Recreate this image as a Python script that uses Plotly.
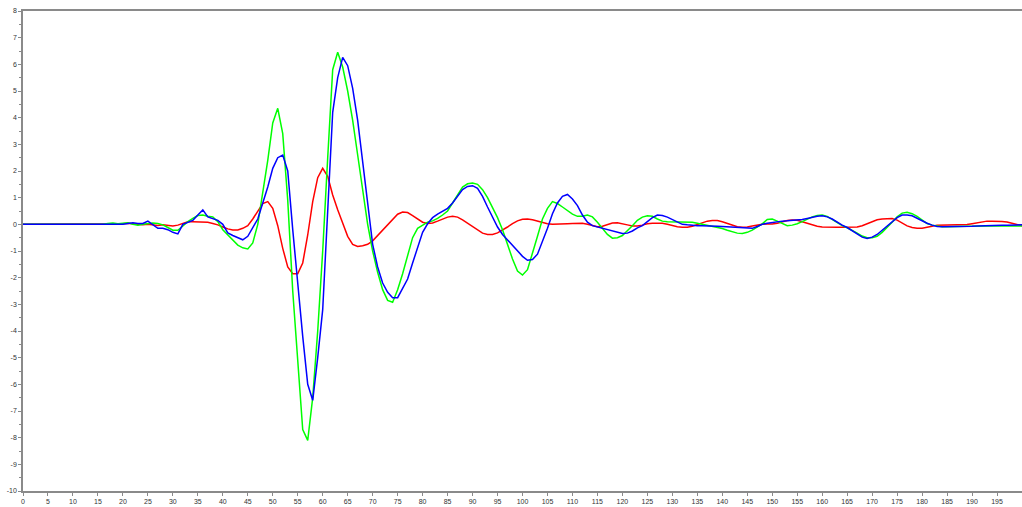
import plotly.graph_objects as go

# Sample index (one value per integer step)
x_samples = list(range(201))

red_signal = [
    0, 0, 0, 0, 0, 0, 0, 0, 0, 0,
    0, 0, 0, 0, 0, 0.01, 0, 0.01, 0.02, 0,
    0.02, 0.04, 0.02, 0, -0.02, 0, -0.03, -0.04, -0.02, -0.05,
    -0.06, -0.03, 0.05, 0.1, 0.1, 0.1, 0.1, 0.08, 0.03, -0.02,
    -0.1, -0.17, -0.21, -0.21, -0.15, -0.05, 0.2, 0.5, 0.78, 0.85,
    0.6, -0.05, -0.9, -1.6, -1.85, -1.85, -1.45, -0.4, 0.85, 1.75,
    2.1, 1.8, 1.1, 0.55, 0.05, -0.45, -0.75, -0.83, -0.8, -0.75,
    -0.62, -0.42, -0.22, 0.0, 0.2, 0.38, 0.46, 0.44, 0.33, 0.2,
    0.08, 0.03, 0.05, 0.12, 0.2, 0.27, 0.3, 0.27, 0.17, 0.04,
    -0.1, -0.22, -0.33, -0.38, -0.38, -0.32, -0.22, -0.1, 0.03, 0.13,
    0.19, 0.2, 0.17, 0.12, 0.07, 0.02, 0.0, 0.0, 0.01, 0.02,
    0.03, 0.04, 0.04, 0.0, -0.05, -0.09, -0.07, 0.0, 0.05, 0.06,
    0.03, -0.02, -0.06, -0.06, -0.03, 0.02, 0.04, 0.05, 0.04, 0.0,
    -0.05, -0.09, -0.11, -0.11, -0.07, 0.0, 0.07, 0.12, 0.14, 0.14,
    0.1, 0.03, -0.04, -0.09, -0.11, -0.1, -0.06, -0.02, 0.0, 0.01,
    0.01, 0.04, 0.09, 0.14, 0.16, 0.15, 0.1, 0.04, -0.02, -0.07,
    -0.1, -0.11, -0.11, -0.11, -0.11, -0.11, -0.11, -0.1, -0.05, 0.03,
    0.11, 0.17, 0.2, 0.22, 0.22, 0.16, 0.04, -0.06, -0.12, -0.15,
    -0.15, -0.12, -0.07, -0.03, -0.03, -0.03, -0.03, -0.03, -0.03, -0.01,
    0.02, 0.06, 0.1, 0.12, 0.12, 0.12, 0.11, 0.09, 0.05, 0.0,
    -0.05,
]

green_signal = [
    0, 0, 0, 0, 0, 0, 0, 0, 0, 0,
    0, 0, 0, 0, 0, 0.02, 0, 0.03, 0.05, 0.02,
    0.05, 0.06, 0, -0.03, 0, 0.03, 0.05, 0.03, -0.02, -0.12,
    -0.22, -0.22, -0.05, 0.1, 0.22, 0.33, 0.35, 0.3, 0.28, 0.1,
    -0.2, -0.4, -0.6, -0.78, -0.88, -0.92, -0.7, 0.0, 1.2, 2.4,
    3.8, 4.35, 3.4, 0.9, -2.5, -5.2, -7.7, -8.1, -6.5, -4.0,
    -1.0, 2.5, 5.8, 6.45, 5.9, 5.0, 3.9, 2.6, 1.3, 0.0,
    -1.0, -1.8, -2.45, -2.85, -2.92, -2.45, -1.85, -1.15, -0.5, -0.15,
    -0.02, 0.08, 0.13, 0.22, 0.35, 0.5, 0.8, 1.1, 1.4, 1.52,
    1.55, 1.5, 1.3, 1.0, 0.65, 0.25, -0.2, -0.75, -1.3, -1.75,
    -1.9, -1.7, -1.1, -0.45, 0.2, 0.6, 0.85, 0.78, 0.65, 0.5,
    0.38, 0.3, 0.3, 0.35, 0.28, 0.08, -0.15, -0.38, -0.52, -0.5,
    -0.42, -0.25, -0.05, 0.15, 0.27, 0.32, 0.3, 0.2, 0.12, 0.1,
    0.1, 0.08, 0.1, 0.1, 0.08, 0.04, 0.0, -0.03, -0.07, -0.12,
    -0.16, -0.22, -0.28, -0.33, -0.34, -0.3, -0.22, -0.1, 0.02, 0.18,
    0.2, 0.12, 0.02, -0.05, -0.03, 0.02, 0.1, 0.2, 0.28, 0.33,
    0.35, 0.3, 0.18, 0.05, -0.05, -0.13, -0.22, -0.33, -0.44, -0.5,
    -0.5, -0.45, -0.3, -0.12, 0.08, 0.28, 0.42, 0.45, 0.4, 0.3,
    0.15, 0.03, -0.03, -0.07, -0.09, -0.09, -0.08, -0.08, -0.07, -0.07,
    -0.07, -0.06, -0.06, -0.06, -0.06, -0.06, -0.06, -0.06, -0.06, -0.06,
    -0.06,
]

blue_signal = [
    0, 0, 0, 0, 0, 0, 0, 0, 0, 0,
    0, 0, 0, 0, 0, 0, 0, 0, 0, 0,
    0.0, 0.03, 0.06, 0.03, 0.03, 0.12, 0.0, -0.15, -0.15, -0.2,
    -0.3, -0.36, 0.0, 0.08, 0.15, 0.35, 0.54, 0.28, 0.2, 0.15,
    0.0, -0.32, -0.42, -0.5, -0.58, -0.45, -0.15, 0.2, 0.8, 1.4,
    2.1, 2.5, 2.6, 2.0, -0.2, -2.3, -4.2, -6.0, -6.6, -5.0,
    -3.2, 0.5, 4.2, 5.5, 6.26, 5.95, 5.1, 3.9, 2.3, 0.7,
    -0.75, -1.6, -2.2, -2.55, -2.75, -2.75, -2.4, -2.05, -1.45, -0.85,
    -0.3, 0.02, 0.25, 0.38, 0.48, 0.6, 0.8, 1.05, 1.3, 1.42,
    1.45, 1.35, 1.05, 0.65, 0.25, -0.1, -0.38, -0.58, -0.78, -0.98,
    -1.2, -1.35, -1.32, -1.12, -0.65, -0.15, 0.4, 0.8, 1.05, 1.12,
    0.95, 0.7, 0.35, 0.08, -0.05, -0.1, -0.15, -0.2, -0.25, -0.3,
    -0.34, -0.33, -0.25, -0.13, -0.05, 0.1, 0.25, 0.35, 0.33, 0.27,
    0.18, 0.08, 0.0, -0.02, -0.04, -0.05, -0.05, -0.05, -0.06, -0.07,
    -0.08, -0.09, -0.1, -0.11, -0.12, -0.14, -0.15, -0.08, 0.0, 0.04,
    0.07, 0.1, 0.12, 0.13, 0.14, 0.16, 0.18, 0.22, 0.27, 0.3,
    0.32, 0.28, 0.2, 0.08, -0.03, -0.12, -0.25, -0.38, -0.48, -0.53,
    -0.48, -0.38, -0.22, -0.08, 0.1, 0.25, 0.35, 0.35, 0.32, 0.22,
    0.12, 0.04, -0.03, -0.08, -0.09, -0.09, -0.09, -0.09, -0.08, -0.08,
    -0.07, -0.06, -0.05, -0.05, -0.04, -0.04, -0.03, -0.03, -0.02, -0.02,
    -0.02,
]

x_tick_values = list(range(0, 201, 5))
x_tick_labels = [str(v) for v in x_tick_values]
y_tick_values = list(range(-10, 9))
y_tick_labels = [str(v) for v in y_tick_values]  # plain hyphen minus

axis_grey = "#8a8a8a"
label_font = dict(family="Liberation Sans, Arial, sans-serif", size=7, color="#333333")

fig = go.Figure()
for values, colour in ((red_signal, "#ff0000"), (green_signal, "#00ff00"), (blue_signal, "#0000ff")):
    fig.add_trace(go.Scatter(
        x=x_samples, y=values, mode="lines",
        line=dict(color=colour, width=1.5),
        showlegend=False, hoverinfo="skip",
    ))

fig.update_layout(
    width=1022, height=507,
    margin=dict(l=23, r=0, t=11, b=16),
    paper_bgcolor="white", plot_bgcolor="white",
    showlegend=False,
)
# bottom axis mirrored as a plain frame line along the top edge
fig.update_xaxes(
    range=[0, 200], showgrid=False, zeroline=False,
    showline=True, linecolor=axis_grey, linewidth=1.5, mirror=True,
    ticks="outside", ticklen=3, tickwidth=1, tickcolor=axis_grey,
    tickmode="array", tickvals=x_tick_values, ticktext=x_tick_labels,
    tickfont=label_font,
)
fig.update_yaxes(
    range=[-10, 8], showgrid=False, zeroline=False,
    showline=True, linecolor=axis_grey, linewidth=1.5,
    ticks="outside", ticklen=3, tickwidth=1, tickcolor=axis_grey,
    tickmode="array", tickvals=y_tick_values, ticktext=y_tick_labels,
    tickfont=label_font,
    minor=dict(ticks="outside", ticklen=2, tickcolor=axis_grey, tickmode="linear", tick0=0, dtick=0.5),
)

fig.write_html("out.html")
